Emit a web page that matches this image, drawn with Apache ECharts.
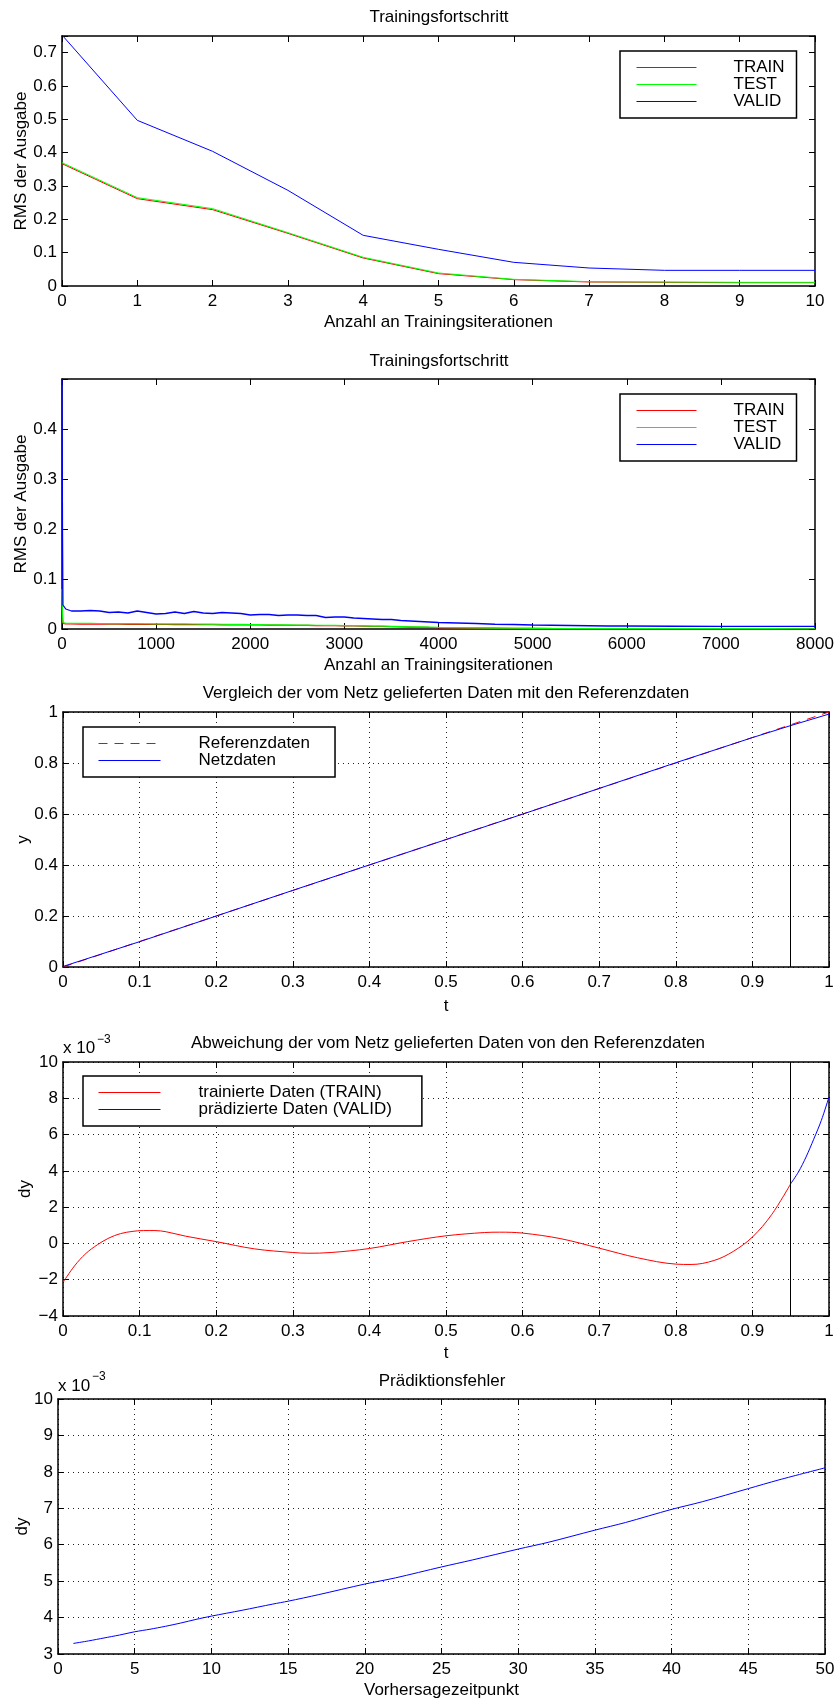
<!DOCTYPE html>
<html><head><meta charset="utf-8">
<script src="https://cdn.jsdelivr.net/npm/echarts@6/dist/echarts.min.js"></script>
<style>html,body{margin:0;padding:0;background:#fff}#c{width:839px;height:1702px}</style>
</head><body><div id="c"></div>
<script>
// ---------- Panel 1: Trainingsfortschritt (10 iterations) ----------
const iters1 = [0,1,2,3,4,5,6,7,8,9,10];
const train1 = [0.367,0.262,0.229,0.158,0.084,0.037,0.019,0.012,0.011,0.010,0.010];
const test1  = [0.370,0.265,0.232,0.160,0.086,0.039,0.020,0.013,0.012,0.011,0.011];
const valid1 = [0.753,0.497,0.404,0.287,0.152,0.110,0.071,0.054,0.047,0.047,0.047];

// ---------- Panel 2: Trainingsfortschritt (8000 iterations) ----------
const iters2 = [0,5,10,20,40,60,100,
  200,300,400,500,600,700,800,900,1000,
  1100,1200,1300,1400,1500,1600,1700,1800,1900,2000,
  2100,2200,2300,2400,2500,2600,2700,2800,2900,3000,
  3100,3200,3300,3400,3500,3600,3700,3800,3900,4000,
  4200,4400,4600,4800,5000,5200,5400,5600,5800,6000,
  6500,7000,7500,8000];
const valid2 = [0.500,0.200,0.048,0.046,0.040,0.036,0.036,
  0.036,0.037,0.036,0.033,0.034,0.032,0.036,0.033,0.030,
  0.031,0.034,0.031,0.035,0.032,0.031,0.033,0.032,0.031,0.028,
  0.029,0.029,0.027,0.028,0.028,0.027,0.027,0.023,0.024,0.024,
  0.022,0.021,0.020,0.019,0.019,0.017,0.016,0.015,0.014,0.013,
  0.012,0.011,0.0095,0.009,0.008,0.0075,0.007,0.0065,0.006,0.006,
  0.0055,0.0053,0.0052,0.0052];
const test2 = [0.080,0.030,0.013,0.012,0.0115,0.0115,0.0113,
  0.0112,0.0111,0.0110,0.0109,0.0108,0.0107,0.0106,0.0105,0.0104,
  0.0103,0.0102,0.0101,0.0100,0.0098,0.0097,0.0095,0.0093,0.0091,0.0089,
  0.0087,0.0085,0.0083,0.0081,0.0079,0.0077,0.0075,0.0073,0.0071,0.0068,
  0.0065,0.0062,0.0059,0.0056,0.0053,0.0049,0.0045,0.0041,0.0037,0.0033,
  0.0027,0.0022,0.0018,0.0015,0.0013,0.0011,0.0010,0.0009,0.0008,0.0008,
  0.0007,0.0006,0.0006,0.0005];
const train2 = [0.060,0.025,0.011,0.0105,0.0102,0.0100,0.0100,
  0.0099,0.0098,0.0097,0.0096,0.0095,0.0094,0.0093,0.0092,0.0091,
  0.0090,0.0089,0.0088,0.0087,0.0086,0.0085,0.0084,0.0083,0.0082,0.0081,
  0.0080,0.0079,0.0077,0.0075,0.0073,0.0071,0.0069,0.0067,0.0065,0.0063,
  0.0060,0.0057,0.0054,0.0051,0.0047,0.0043,0.0039,0.0035,0.0031,0.0028,
  0.0023,0.0019,0.0016,0.0013,0.0011,0.0010,0.0009,0.0008,0.0007,0.0007,
  0.0006,0.0005,0.0005,0.0004];

// ---------- Panel 3: Vergleich ----------
const t3   = [0,0.1,0.2,0.3,0.4,0.5,0.6,0.7,0.8,0.9,0.95,1.0];
const ref3 = [0,0.1,0.2,0.3,0.4,0.5,0.6,0.7,0.8,0.9,0.95,1.0];
const net3 = [0.0021,0.0993,0.1998,0.3005,0.4003,0.4996,0.5994,0.7003,0.8011,0.8996,0.9467,0.9919];
const splitT = 0.95;

// ---------- Panel 4: Abweichung (x 10^-3) ----------
const t4train  = [0,0.015,0.03,0.045,0.06,0.075,0.09,0.105,0.12,0.135,0.16,0.2,0.25,0.3,0.32,0.35,0.4,0.45,0.5,0.55,0.57,0.6,0.65,0.7,0.75,0.8,0.82,0.85,0.875,0.9,0.925,0.95];
const dy4train = [-2.15,-1.24,-0.55,-0.07,0.30,0.54,0.66,0.71,0.71,0.64,0.40,0.10,-0.30,-0.50,-0.54,-0.50,-0.28,0.10,0.42,0.60,0.62,0.57,0.26,-0.26,-0.79,-1.14,-1.16,-0.94,-0.44,0.35,1.58,3.29];
const t4valid  = [0.95,0.96,0.97,0.98,0.99,1.0];
const dy4valid = [3.29,3.93,4.76,5.74,6.78,8.07];

// ---------- Panel 5: Prädiktionsfehler (x 10^-3) ----------
const k5   = [1,2,3,4,5,6,7,8,9,10,12,14,15,17,20,22,25,27,30,32,35,37,40,42,45,47,50];
const err5 = [3.29,3.36,3.44,3.52,3.61,3.68,3.76,3.85,3.95,4.04,4.20,4.37,4.45,4.63,4.92,5.09,5.39,5.58,5.88,6.07,6.40,6.61,6.97,7.18,7.54,7.78,8.11];

// ---------- chart ----------
const FONT = 'Liberation Sans, Arial, Helvetica, sans-serif';
const FS = 17;
const pairs = (xs, ys) => xs.map((x, i) => [x, ys[i]]);
const minus = v => String(v).replace('-', '\u2212');

const grids = [
  {left:62, top:36,   width:753, height:250},
  {left:62, top:379,  width:753, height:250},
  {left:63, top:712,  width:766, height:255},
  {left:63, top:1062, width:766, height:254},
  {left:58, top:1399, width:767, height:255}
];

const lineAxis = {show:true, onZero:false, lineStyle:{color:'#000', width:1.5}};
const tickIn = {show:true, inside:true, length:6, lineStyle:{color:'#000', width:1}};
const dotted = {show:true, lineStyle:{color:'#222', type:[1,4], width:1}};

function xPair(gi, min, max, interval, name, nameGap, grid) {
  return [
    {type:'value', gridIndex:gi, min, max, interval, position:'bottom',
     name, nameLocation:'middle', nameGap, nameMoveOverlap:false,
     nameTextStyle:{fontFamily:FONT, fontSize:FS, color:'#000'},
     axisLine:lineAxis, axisTick:tickIn,
     axisLabel:{fontFamily:FONT, fontSize:FS, color:'#000', margin:7, formatter:minus},
     splitLine: grid ? dotted : {show:false}},
    {type:'value', gridIndex:gi, min, max, interval, position:'top',
     axisLine:lineAxis, axisTick:tickIn, axisLabel:{show:false}, splitLine:{show:false}}
  ];
}
function yPair(gi, min, max, interval, name, nameGap, grid, fmt) {
  return [
    {type:'value', gridIndex:gi, min, max, interval, position:'left',
     name, nameLocation:'middle', nameGap, nameMoveOverlap:false,
     nameTextStyle:{fontFamily:FONT, fontSize:FS, color:'#000'},
     axisLine:lineAxis, axisTick:tickIn,
     axisLabel:{fontFamily:FONT, fontSize:FS, color:'#000', margin:5, formatter: fmt || minus},
     splitLine: grid ? dotted : {show:false}},
    {type:'value', gridIndex:gi, min, max, interval, position:'right',
     axisLine:lineAxis, axisTick:tickIn, axisLabel:{show:false}, splitLine:{show:false}}
  ];
}

const xAxes = [].concat(
  xPair(0, 0, 10, 1, 'Anzahl an Trainingsiterationen', 28, false),
  xPair(1, 0, 8000, 1000, 'Anzahl an Trainingsiterationen', 28, false),
  xPair(2, 0, 1, 0.1, 't', 31, true),
  xPair(3, 0, 1, 0.1, 't', 29, true),
  xPair(4, 0, 50, 5, 'Vorhersagezeitpunkt', 28, true)
);
const yAxes = [].concat(
  yPair(0, 0, 0.75, 0.1, 'RMS der Ausgabe', 32, false,
        v => Math.abs(v*10 - Math.round(v*10)) < 1e-6 ? String(+v.toFixed(1)) : ''),
  yPair(1, 0, 0.5, 0.1, 'RMS der Ausgabe', 32, false,
        v => v > 0.45 ? '' : String(+v.toFixed(1))),
  yPair(2, 0, 1, 0.2, 'y', 31, true),
  yPair(3, -4, 10, 2, 'dy', 29, true),
  yPair(4, 3, 10, 1, 'dy', 27, true)
);

const RED = '#ff0000', GREEN = '#00ff00', BLUE = '#0000ff';
function ln(name, gi, data, color, extra) {
  return Object.assign({
    type:'line', name, xAxisIndex:2*gi, yAxisIndex:2*gi, data,
    symbol:'none', showSymbol:false, silent:true,
    lineStyle:{color, width:1}, itemStyle:{color}
  }, extra || {});
}
const vline = {silent:true, symbol:['none','none'], label:{show:false},
  lineStyle:{color:'#000', type:'solid', width:1}, data:[{xAxis: splitT}]};

const series = [
  ln('TRAIN', 0, pairs(iters1, train1), RED),
  ln('TEST',  0, pairs(iters1, test1), GREEN),
  ln('VALID', 0, pairs(iters1, valid1), BLUE),
  ln('TRAIN', 1, pairs(iters2, train2), RED, {lineStyle:{color:RED, width:1.2}}),
  ln('TEST',  1, pairs(iters2, test2), GREEN, {lineStyle:{color:GREEN, width:1.2}}),
  ln('VALID', 1, pairs(iters2, valid2), BLUE, {lineStyle:{color:BLUE, width:1.3}}),
  ln('Referenzdaten', 2, pairs(t3, ref3), RED, {lineStyle:{color:RED, width:1, type:[9,7]}}),
  ln('Netzdaten', 2, pairs(t3, net3), BLUE, {markLine: vline}),
  ln('trainierte Daten (TRAIN)', 3, pairs(t4train, dy4train), RED, {smooth:0.35, markLine: vline}),
  ln('prädizierte Daten (VALID)', 3, pairs(t4valid, dy4valid), BLUE, {smooth:0.3}),
  ln('Prädiktionsfehler', 4, pairs(k5, err5), BLUE, {smooth:0.3})
];

function legend(left, top, names, pad, padText, itemWidth, lh) {
  return {
    orient:'vertical', left, top, data:names, itemWidth, itemHeight:8, itemGap:0,
    padding:pad, borderColor:'#000', borderWidth:1.5, backgroundColor:'#fff',
    selectedMode:false, itemStyle:{opacity:0}, lineStyle:{width:1},
    formatter: n => '{t|' + n + '}',
    textStyle:{fontFamily:FONT, fontSize:FS, color:'#000',
      rich:{t:{fontFamily:FONT, fontSize:FS, color:'#000', lineHeight:lh, padding:[0,0,0,padText]}}}
  };
}
const legends = [
  legend(620, 51, ['TRAIN','TEST','VALID'], [8,12,8,16], 32, 60, 17.3),
  legend(620, 394, ['TRAIN','TEST','VALID'], [8,12,8,16], 32, 60, 17.3),
  legend(83, 727, ['Referenzdaten','Netzdaten'], [8,25,8,15], 33, 62, 16),
  legend(83, 1076, ['trainierte Daten (TRAIN)','prädizierte Daten (VALID)'], [8,30,8,15], 33, 62, 16)
];

function title(x, y, text) {
  return {type:'text', x, y, silent:true,
    style:{text, fontFamily:FONT, fontSize:FS, fill:'#000', align:'center', verticalAlign:'middle'}};
}
function txt(x, y, text, size) {
  return {type:'text', x, y, silent:true,
    style:{text, fontFamily:FONT, fontSize:size, fill:'#000', align:'left', verticalAlign:'middle'}};
}
const graphics = [
  title(439, 17, 'Trainingsfortschritt'),
  title(439, 361, 'Trainingsfortschritt'),
  title(446, 693, 'Vergleich der vom Netz gelieferten Daten mit den Referenzdaten'),
  title(448, 1043, 'Abweichung der vom Netz gelieferten Daten von den Referenzdaten'),
  title(442, 1381, 'Prädiktionsfehler'),
  txt(63, 1048, 'x 10', FS), txt(97, 1040, '\u22123', 12),
  txt(58, 1386, 'x 10', FS), txt(92, 1377, '\u22123', 12)
];

const chart = echarts.init(document.getElementById('c'), null, {renderer:'canvas'});
chart.setOption({
  animation:false,
  backgroundColor:'#fff',
  grid: grids.map(g => Object.assign({containLabel:false}, g)),
  xAxis: xAxes,
  yAxis: yAxes,
  legend: legends,
  series,
  graphic: graphics
});
</script>
</body></html>
